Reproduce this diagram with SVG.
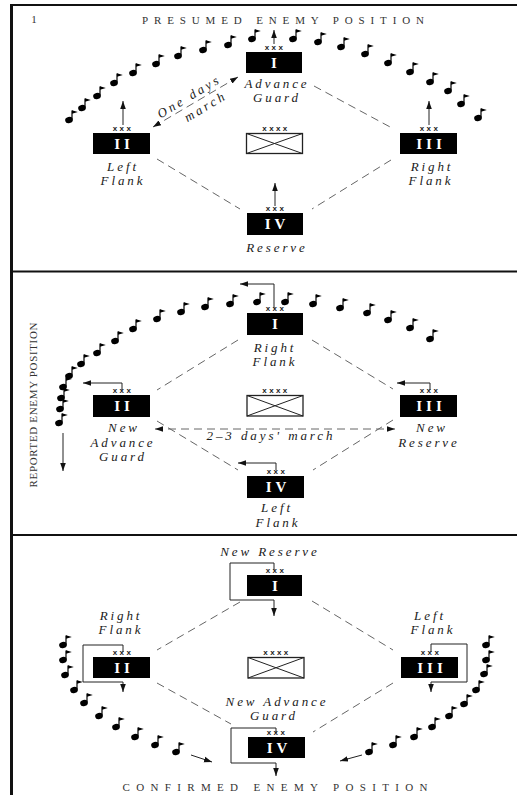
<svg xmlns="http://www.w3.org/2000/svg" width="517" height="801" viewBox="0 0 517 801">
<style>
.frame{stroke:#111;fill:none}
.lbl{font-family:"Liberation Serif",serif;font-style:italic;font-size:13px;letter-spacing:2.9px;fill:#1a1a1a;text-anchor:middle}
.hdr{font-family:"Liberation Serif",serif;font-size:11px;fill:#333;text-anchor:middle}
.num{font-family:"Liberation Serif",serif;font-weight:bold;font-size:15px;letter-spacing:4px;fill:#fff;text-anchor:middle}
.xx{font-family:"Liberation Sans",sans-serif;font-weight:bold;font-size:8px;letter-spacing:2.4px;fill:#222;text-anchor:middle}
.unit{fill:#000}
.hq{fill:#fff;stroke:#222;stroke-width:1.3}
.dash{stroke:#666;stroke-width:1;stroke-dasharray:8 5;fill:none}
.arw{stroke:#222;stroke-width:1;fill:none}
</style>
<defs>
<marker id="ah" viewBox="0 0 10 10" refX="10" refY="5" markerWidth="8" markerHeight="8" orient="auto-start-reverse" markerUnits="userSpaceOnUse">
<path d="M0,1.5 L10,5 L0,8.5 z" fill="#111"/>
</marker>
<g id="flag">
<ellipse cx="0" cy="0" rx="3.9" ry="3.1" transform="rotate(-15)" fill="#000"/>
<path d="M3,-0.5 V-9.5" stroke="#000" stroke-width="1.2"/>
<path d="M3,-9.8 L8.8,-8 L3,-6.2 z" fill="#000"/>
</g>
</defs>
<rect width="517" height="801" fill="#fff"/>
<g id="frame">
<path class="frame" d="M11.5,5 V795" stroke-width="3"/>
<path class="frame" d="M10,5 H517" stroke-width="2"/>
<path class="frame" d="M10,271.5 H517" stroke-width="2"/>
<path class="frame" d="M10,535 H517" stroke-width="2"/>
</g>

<!-- ===== Panel 1 ===== -->
<g id="panel1-titles">
<text x="34" y="23" class="hdr" font-size="10">1</text>
<text x="283" y="24" class="hdr" textLength="282" lengthAdjust="spacing">PRESUMED ENEMY POSITION</text>
</g>
<g id="panel1-flags">
<use href="#flag" x="69" y="120"/><use href="#flag" x="82" y="108"/><use href="#flag" x="97" y="96"/>
<use href="#flag" x="114" y="83"/><use href="#flag" x="133" y="73"/><use href="#flag" x="156" y="64"/>
<use href="#flag" x="178" y="56"/><use href="#flag" x="203" y="50"/><use href="#flag" x="228" y="45"/>
<use href="#flag" x="252" y="39"/>
<use href="#flag" x="293" y="39"/><use href="#flag" x="318" y="42"/><use href="#flag" x="341" y="47"/>
<use href="#flag" x="365" y="54"/><use href="#flag" x="388" y="63"/><use href="#flag" x="410" y="72"/>
<use href="#flag" x="430" y="82"/><use href="#flag" x="448" y="91"/><use href="#flag" x="461" y="104"/>
<use href="#flag" x="478" y="118"/>
</g>
<g id="p1-I">
<text x="275" y="50" class="xx">xxx</text>
<rect class="unit" x="246" y="52" width="56" height="21"/>
<text x="276" y="67.5" class="num">I</text>
<text x="277" y="88" class="lbl">Advance</text>
<text x="277" y="102" class="lbl">Guard</text>
</g>
<g id="p1-II">
<text x="123" y="131" class="xx">xxx</text>
<rect class="unit" x="93" y="133" width="57" height="21"/>
<text x="124" y="148.5" class="num">II</text>
<text x="123" y="171" class="lbl">Left</text>
<text x="123" y="185" class="lbl">Flank</text>
</g>
<g id="p1-III">
<text x="430" y="131" class="xx">xxx</text>
<rect class="unit" x="400" y="133" width="57" height="21"/>
<text x="431" y="148.5" class="num">III</text>
<text x="432" y="171" class="lbl">Right</text>
<text x="431" y="185" class="lbl">Flank</text>
</g>
<g id="p1-HQ">
<text x="276" y="131" class="xx">xxxx</text>
<rect class="hq" x="246.5" y="133.5" width="56" height="20"/>
<path d="M246.5,133.5 L302.5,153.5 M302.5,133.5 L246.5,153.5" stroke="#222" stroke-width="1"/>
</g>
<g id="p1-IV">
<text x="276" y="211" class="xx">xxx</text>
<rect class="unit" x="247" y="213" width="56" height="22"/>
<text x="277" y="229" class="num">IV</text>
<text x="277" y="252" class="lbl">Reserve</text>
</g>
<g id="p1-connectors">
<path class="arw" d="M274,44 V30" marker-end="url(#ah)"/>
<path class="arw" d="M123,125 V101" marker-end="url(#ah)"/>
<path class="arw" d="M429,125 V101" marker-end="url(#ah)"/>
<path class="arw" d="M275,206 V183" marker-end="url(#ah)"/>
<path class="dash" d="M153,127 L238,77" marker-start="url(#ah)" marker-end="url(#ah)"/>
<path class="dash" d="M314,86 L392,128"/>
<path class="dash" d="M157,159 L240,209"/>
<path class="dash" d="M391,160 L312,209"/>
<g transform="translate(195,102.5) rotate(-31)">
<text x="-2" y="-4" class="lbl" font-size="12.5" letter-spacing="1.5">One days</text>
<text x="7" y="13" class="lbl" font-size="12.5" letter-spacing="1.5">march</text>
</g>
</g>

<!-- ===== Panel 2 ===== -->
<g id="panel2-title">
<text transform="translate(37,405) rotate(-90)" class="hdr" textLength="165" lengthAdjust="spacing">REPORTED ENEMY POSITION</text>
</g>
<g id="panel2-flags">
<use href="#flag" x="257" y="302"/><use href="#flag" x="230" y="304"/><use href="#flag" x="205" y="307"/>
<use href="#flag" x="181" y="312"/><use href="#flag" x="157" y="319"/><use href="#flag" x="133" y="329"/>
<use href="#flag" x="115" y="341"/><use href="#flag" x="97" y="353"/><use href="#flag" x="81" y="364"/>
<use href="#flag" x="69" y="376"/><use href="#flag" x="63" y="387"/><use href="#flag" x="61" y="398"/>
<use href="#flag" x="60" y="409"/><use href="#flag" x="59" y="423"/>
<use href="#flag" x="285" y="302"/><use href="#flag" x="313" y="304"/><use href="#flag" x="340" y="308"/>
<use href="#flag" x="367" y="313"/><use href="#flag" x="388" y="320"/><use href="#flag" x="410" y="328"/>
<use href="#flag" x="430" y="339"/>
</g>
<g id="p2-I">
<text x="276" y="311" class="xx">xxx</text>
<rect class="unit" x="247" y="313" width="56" height="22"/>
<text x="277" y="329" class="num">I</text>
<text x="275" y="352" class="lbl">Right</text>
<text x="275" y="366" class="lbl">Flank</text>
</g>
<g id="p2-II">
<text x="123" y="393" class="xx">xxx</text>
<rect class="unit" x="93" y="395" width="57" height="22"/>
<text x="124" y="411" class="num">II</text>
<text x="124" y="432" class="lbl">New</text>
<text x="123" y="447" class="lbl">Advance</text>
<text x="123" y="461" class="lbl">Guard</text>
</g>
<g id="p2-III">
<text x="430" y="393" class="xx">xxx</text>
<rect class="unit" x="400" y="395" width="57" height="22"/>
<text x="431" y="411" class="num">III</text>
<text x="432" y="432" class="lbl">New</text>
<text x="429" y="447" class="lbl">Reserve</text>
</g>
<g id="p2-HQ">
<text x="276" y="393" class="xx">xxxx</text>
<rect class="hq" x="247" y="395.5" width="56" height="20.5"/>
<path d="M247,395.5 L303,416 M303,395.5 L247,416" stroke="#222" stroke-width="1"/>
</g>
<g id="p2-IV">
<text x="277" y="474" class="xx">xxx</text>
<rect class="unit" x="247" y="476" width="57" height="22"/>
<text x="278" y="492" class="num">IV</text>
<text x="277" y="512" class="lbl">Left</text>
<text x="278" y="527" class="lbl">Flank</text>
</g>
<g id="p2-connectors">
<path class="arw" d="M274,308 V284 H240" marker-end="url(#ah)"/>
<path class="arw" d="M122,390 V383 H83" marker-end="url(#ah)"/>
<path class="arw" d="M430,390 V383 H397" marker-end="url(#ah)"/>
<path class="arw" d="M276,470 V463 H238" marker-end="url(#ah)"/>
<path class="arw" d="M63,433 V471" marker-end="url(#ah)"/>
<path class="dash" d="M238,340 L157,390"/>
<path class="dash" d="M312,340 L393,389"/>
<path class="dash" d="M157,421 L238,470"/>
<path class="dash" d="M393,420 L313,470"/>
<path class="dash" d="M155,429 H395" marker-start="url(#ah)" marker-end="url(#ah)"/>
<text x="271" y="440" class="lbl" font-size="12.5" letter-spacing="2">2–3 days' march</text>
</g>

<!-- ===== Panel 3 ===== -->
<g id="panel3-title">
<text x="275" y="791" class="hdr" textLength="305" lengthAdjust="spacing">CONFIRMED ENEMY POSITION</text>
</g>
<g id="panel3-flags">
<use href="#flag" x="63" y="645"/><use href="#flag" x="63" y="660"/><use href="#flag" x="65" y="675"/>
<use href="#flag" x="74" y="690"/><use href="#flag" x="84" y="703"/><use href="#flag" x="99" y="716"/>
<use href="#flag" x="116" y="727"/><use href="#flag" x="135" y="737"/><use href="#flag" x="155" y="745"/>
<use href="#flag" x="176" y="752"/>
<use href="#flag" x="486" y="645"/><use href="#flag" x="486" y="660"/><use href="#flag" x="484" y="674"/>
<use href="#flag" x="476" y="690"/><use href="#flag" x="464" y="704"/><use href="#flag" x="449" y="716"/>
<use href="#flag" x="432" y="727"/><use href="#flag" x="414" y="737"/><use href="#flag" x="393" y="745"/>
<use href="#flag" x="369" y="752"/>
</g>
<g id="p3-I">
<text x="270" y="556" class="lbl">New Reserve</text>
<text x="276" y="573" class="xx">xxx</text>
<rect class="unit" x="247" y="575" width="55" height="21"/>
<text x="277" y="590.5" class="num">I</text>
</g>
<g id="p3-II">
<text x="121" y="620" class="lbl">Right</text>
<text x="121" y="634" class="lbl">Flank</text>
<text x="123" y="655" class="xx">xxx</text>
<rect class="unit" x="93" y="657" width="57" height="21"/>
<text x="124" y="672.5" class="num">II</text>
</g>
<g id="p3-III">
<text x="430" y="620" class="lbl">Left</text>
<text x="433" y="634" class="lbl">Flank</text>
<text x="431" y="655" class="xx">xxx</text>
<rect class="unit" x="401" y="657" width="57" height="21"/>
<text x="432" y="672.5" class="num">III</text>
</g>
<g id="p3-HQ">
<text x="277" y="655" class="xx">xxxx</text>
<rect class="hq" x="248" y="657.5" width="56" height="20.5"/>
<path d="M248,657.5 L304,678 M304,657.5 L248,678" stroke="#222" stroke-width="1"/>
</g>
<g id="p3-IV">
<text x="277" y="706" class="lbl">New Advance</text>
<text x="274" y="720" class="lbl">Guard</text>
<text x="277" y="735" class="xx">xxx</text>
<rect class="unit" x="248" y="737" width="57" height="21"/>
<text x="279" y="752.5" class="num">IV</text>
</g>
<g id="p3-connectors">
<path class="arw" d="M274,570 V563 H230 V600 H274 V616" marker-end="url(#ah)"/>
<path class="arw" d="M123,652 V645 H83 V682 H123 V692" marker-end="url(#ah)"/>
<path class="arw" d="M431,652 V644 H467 V682 H431 V692" marker-end="url(#ah)"/>
<path class="arw" d="M276,733 V728 H231 V763 H276 V776" marker-end="url(#ah)"/>
<path class="arw" d="M191,755 L212,762" marker-end="url(#ah)"/>
<path class="arw" d="M362,755 L340,761" marker-end="url(#ah)"/>
<path class="dash" d="M240,602 L157,650"/>
<path class="dash" d="M312,601 L393,650"/>
<path class="dash" d="M157,683 L231,724"/>
<path class="dash" d="M393,683 L313,732"/>
</g>
</svg>
